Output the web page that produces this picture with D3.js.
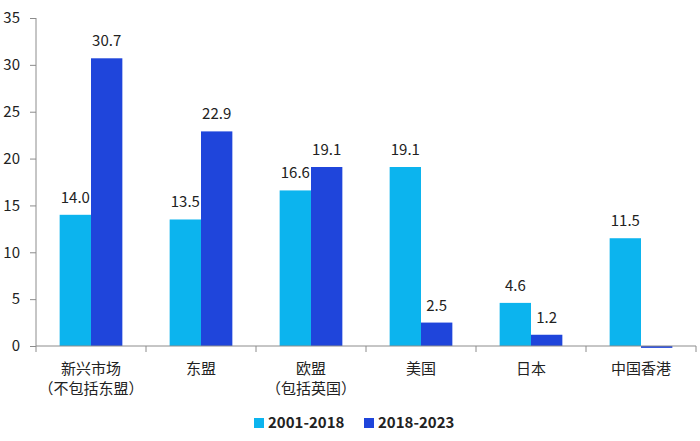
<!DOCTYPE html>
<html><head><meta charset="utf-8">
<script src="https://cdn.jsdelivr.net/npm/d3@7"></script>
<style>
html,body{margin:0;padding:0;background:#fff;}
svg{display:block;font-family:"Noto Sans CJK SC","Noto Sans",sans-serif;}
</style></head>
<body><svg id="chart" width="700" height="441"></svg>
<script>
const categories = [["新兴市场","（不包括东盟）"],["东盟"],["欧盟","（包括英国）"],["美国"],["日本"],["中国香港"]];
const seriesNames = ["2001-2018","2018-2023"];
const series2001_2018 = [14.0, 13.5, 16.6, 19.1, 4.6, 11.5];
const series2018_2023 = [30.7, 22.9, 19.1, 2.5, 1.2, -0.2];
const yTicks = [0,5,10,15,20,25,30,35];
const colors = ["#0cb4ee","#1f45db"];

(function(){
const svg = d3.select("#chart");
const mLeft = 36, mRight = 696, mTop = 18, mBottom = 346;
const catIdx = categories.map((d,i)=>i);
const x0 = d3.scaleBand().domain(catIdx).range([mLeft,mRight]).paddingInner(0.43).paddingOuter(0.215);
const x1 = d3.scaleBand().domain([0,1]).range([0,x0.bandwidth()]);
const y = d3.scaleLinear().domain([0,35]).range([mBottom,mTop]);
const axisColor = "#8c8c8c";

const data = [series2001_2018, series2018_2023];
data.forEach((vals,s)=>{
  svg.append("g").selectAll("rect").data(vals).join("rect")
    .attr("x",(d,i)=>x0(i)+x1(s))
    .attr("width",x1.bandwidth())
    .attr("y",d=>y(Math.max(0,d)))
    .attr("height",d=>Math.abs(y(d)-y(0)))
    .attr("fill",colors[s]);
  svg.append("g").selectAll("text").data(vals.map((v,i)=>({v,i})).filter(d=>d.v>0)).join("text")
    .attr("x",d=>x0(d.i)+x1(s)+x1.bandwidth()/2)
    .attr("y",d=>y(d.v)-12)
    .attr("text-anchor","middle")
    .attr("font-size",15)
    .attr("fill","#222")
    .text(d=>d3.format(".1f")(d.v));
});

const yAxis = svg.append("g").attr("transform",`translate(${mLeft},0)`)
  .call(d3.axisLeft(y).tickValues(yTicks).tickSize(6).tickPadding(10).tickFormat(d3.format("d")));
yAxis.select(".domain").attr("stroke",axisColor).attr("d",`M0,${mTop}V${mBottom}`);
yAxis.selectAll(".tick line").attr("stroke",axisColor);
yAxis.selectAll(".tick text").attr("font-size",15).attr("fill","#222").attr("font-family","\"Noto Sans CJK SC\",sans-serif");

const xg = svg.append("g");
xg.append("line").attr("x1",mLeft).attr("x2",mRight).attr("y1",mBottom).attr("y2",mBottom).attr("stroke",axisColor);
const bounds = catIdx.map(i=>x0(i)-x0.step()*x0.paddingInner()/2).concat([mRight]);
xg.selectAll("line.t").data(bounds).join("line").attr("class","t")
  .attr("x1",d=>d).attr("x2",d=>d).attr("y1",mBottom).attr("y2",mBottom+6).attr("stroke",axisColor);
const labels = xg.selectAll("text").data(categories).join("text")
  .attr("text-anchor","middle").attr("font-size",15).attr("fill","#222");
labels.each(function(lines,i){
  const t = d3.select(this);
  lines.forEach((ln,k)=>{
    t.append("tspan").attr("x",x0(i)+x0.bandwidth()/2).attr("y",374+k*20).text(ln);
  });
});

const legendX = [254,364];
seriesNames.forEach((n,s)=>{
  svg.append("rect").attr("x",legendX[s]).attr("y",418).attr("width",10).attr("height",10).attr("fill",colors[s]);
  svg.append("text").attr("x",legendX[s]+14).attr("y",428).attr("font-size",15).attr("font-weight","bold")
    .attr("fill","#222").text(n);
});
})();
</script></body></html>
